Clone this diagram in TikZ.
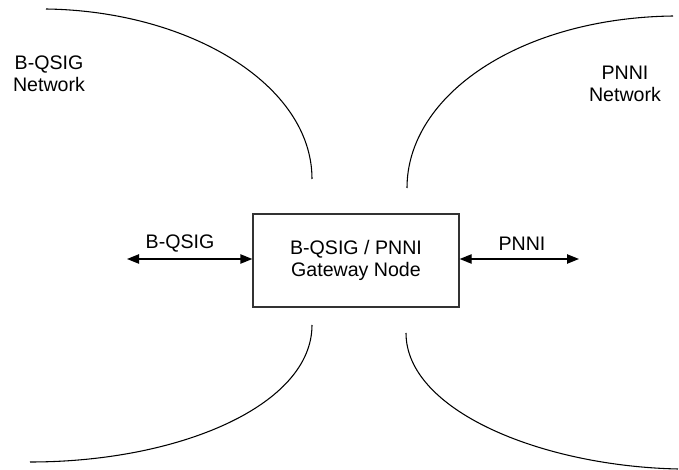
\documentclass[tikz,border=0pt]{standalone}
\usepackage{fontspec}
\setmainfont{Liberation Sans}
\usetikzlibrary{arrows.meta}
\begin{document}
\begin{tikzpicture}[x=0.75pt,y=-0.75pt,
  lbl/.style={font=\fontsize{14.7}{16.5}\selectfont, align=center, inner sep=0pt},
  edge/.style={line width=0.8pt, black},
  gate/.style={draw=black!80, line width=1pt, minimum width=206*0.75pt, minimum height=93*0.75pt, inner sep=0pt},
  link/.style={line width=1pt, {Triangle[length=9pt,width=7pt]}-{Triangle[length=9pt,width=7pt]}}]
  \useasboundingbox (0,0) rectangle (679,470);

  % network boundaries
  \coordinate (tl0) at (46,9);   \coordinate (tl1) at (312,179);
  \coordinate (tr0) at (407,188); \coordinate (tr1) at (673,16);
  \coordinate (bl0) at (312,325); \coordinate (bl1) at (30,462);
  \coordinate (br0) at (406,333); \coordinate (br1) at (678,469);
  \draw[edge] (tl0) .. controls (190,11) and (312,85) .. (tl1);
  \draw[edge] (tr0) .. controls (407,95) and (520,18) .. (tr1);
  \draw[edge] (bl0) .. controls (312,405) and (180,462) .. (bl1);
  \draw[edge] (br0) .. controls (406,410) and (540,466) .. (br1);

  % network names
  \node[lbl] (bqnet) at (49,74) {B-QSIG\\Network};
  \node[lbl] (pnet) at (625,84) {PNNI\\Network};

  % gateway
  \node[gate, lbl] (gw) at (356,260.5) {B-QSIG / PNNI\\Gateway Node};

  % interfaces
  \coordinate (la) at (127,259);
  \coordinate (ra) at (579,259);
  \draw[link] (la) -- (la -| gw.west);
  \draw[link] (ra -| gw.east) -- (ra);
  \node[lbl] (lq) at (180,244) {B-QSIG};
  \node[lbl] (lp) at (522,244) {PNNI};
\end{tikzpicture}
\end{document}
